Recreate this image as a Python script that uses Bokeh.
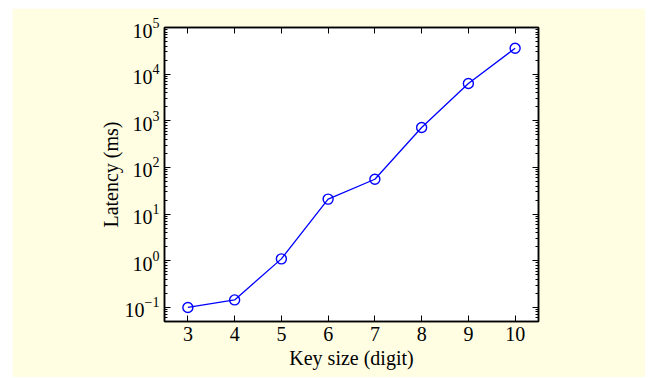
from bokeh.plotting import figure
from bokeh.models import (LinearAxis, LogAxis, FixedTicker, Range1d,
                          LogTickFormatter, CustomJSTickFormatter, Spacer)
from bokeh.layouts import row, column
from bokeh.embed import file_html
from bokeh.resources import INLINE

key_size = [3, 4, 5, 6, 7, 8, 9, 10]
latency_ms = [0.1, 0.145, 1.1, 21, 56, 720, 6300, 36000]
x_ticks = [3, 4, 5, 6, 7, 8, 9, 10]
y_decades = [-1, 0, 1, 2, 3, 4, 5]

FONT = "Liberation Serif"
BG = "#fffee2"

p = figure(width=633, height=369, y_axis_type="log",
           x_range=Range1d(2.5, 10.5), y_range=Range1d(0.05, 1e5),
           output_backend="svg", toolbar_location=None,
           min_border_left=152, min_border_right=107,
           min_border_top=19, min_border_bottom=56)
p.border_fill_color = BG
p.background_fill_color = "white"
p.outline_line_color = "black"
p.outline_line_width = 1.5
p.xgrid.visible = False
p.ygrid.visible = False

major_y = [10.0 ** d for d in y_decades]
minor_y = [m * 10.0 ** d for d in [-2] + y_decades for m in range(2, 10)]


def style(ax):
    ax.axis_line_color = "black"
    ax.axis_line_width = 1.5
    ax.major_tick_in = 6
    ax.major_tick_out = 0
    ax.minor_tick_in = 3
    ax.minor_tick_out = 0
    ax.major_tick_line_color = "black"
    ax.minor_tick_line_color = "black"
    ax.major_label_text_font = FONT
    ax.major_label_text_font_size = "20px"
    ax.major_label_text_color = "black"
    ax.axis_label_text_font = FONT
    ax.axis_label_text_font_size = "20px"
    ax.axis_label_text_font_style = "normal"
    ax.axis_label_text_color = "black"


blank = CustomJSTickFormatter(code="return ''")

xa = p.xaxis[0]
xa.ticker = FixedTicker(ticks=x_ticks)
xa.axis_label = "Key size (digit)"
style(xa)
xa.major_label_standoff = 5
xa.axis_label_standoff = 3

ya = p.yaxis[0]
ya.ticker = FixedTicker(ticks=major_y, minor_ticks=minor_y)
ya.formatter = LogTickFormatter()
ya.axis_label = "Latency (ms)"
style(ya)
ya.major_label_standoff = 5
ya.axis_label_standoff = 0

top = LinearAxis(ticker=FixedTicker(ticks=x_ticks), formatter=blank)
style(top)
top.major_label_standoff = 0
p.add_layout(top, "above")

right = LogAxis(ticker=FixedTicker(ticks=major_y, minor_ticks=minor_y),
                formatter=CustomJSTickFormatter(code="return ''"))
style(right)
right.major_label_standoff = 0
p.add_layout(right, "right")

p.line(key_size, latency_ms, line_color="blue", line_width=1.3)
p.scatter(key_size, latency_ms, marker="circle", size=10,
          fill_color=None, line_color="blue", line_width=1.4)

layout = row(Spacer(width=12), column(Spacer(height=8), p))

open("out.html", "w").write(file_html(layout, INLINE))
